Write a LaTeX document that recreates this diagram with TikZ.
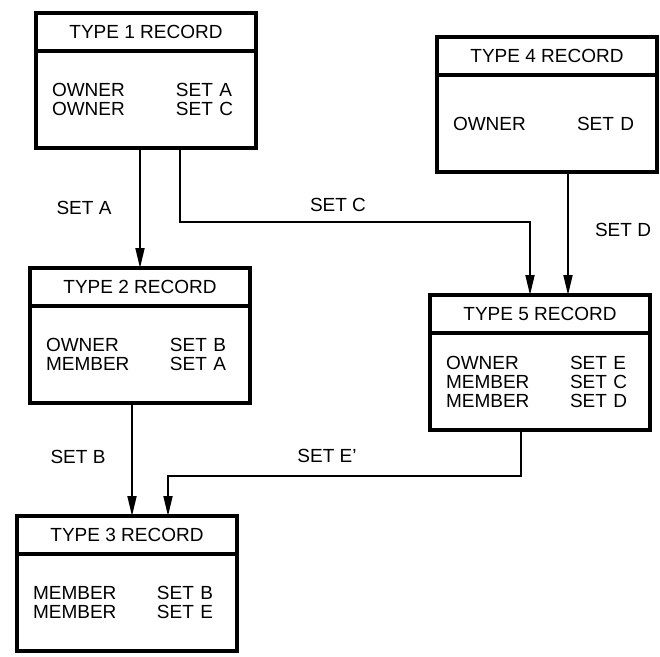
\documentclass[tikz,border=0pt]{standalone}
\usepackage{fontspec}
\setmainfont{Liberation Sans}
\usetikzlibrary{positioning,arrows.meta}

\newcommand{\recfont}{\fontsize{19}{19}\selectfont}
\newcommand{\rrow}[2]{\makebox[124pt][l]{#1}#2}

\tikzset{
  rechead/.style={draw, line width=3.5pt, minimum width=220pt, minimum height=38pt,
    inner sep=0pt, outer sep=0pt, anchor=north west, font=\recfont},
  recbody/.style={draw, line width=3.5pt, minimum width=220pt, minimum height=97pt,
    text width=188pt, align=left, inner xsep=16pt, inner ysep=0pt, outer sep=0pt,
    font=\recfont},
  setline/.style={line width=1.8pt, -{Triangle[length=20pt,width=9pt]}},
  setlabel/.style={font=\recfont, inner sep=0pt}
}

\begin{document}
\begin{tikzpicture}[x=1pt, y=-1pt]
    \useasboundingbox (0,0) rectangle (660,656);

    % records
    \node[rechead] (t1) at (36,13) {TYPE 1 RECORD};
    \node[recbody, below=0pt of t1] (t1b) {\rrow{OWNER}{SET A}\\\rrow{OWNER}{SET C}};

    \node[rechead] (t4) at (437,37) {TYPE 4 RECORD};
    \node[recbody, below=0pt of t4] (t4b) {\rrow{OWNER}{SET D}};

    \node[rechead] (t2) at (30,268) {TYPE 2 RECORD};
    \node[recbody, below=0pt of t2] (t2b) {\rrow{OWNER}{SET B}\\\rrow{MEMBER}{SET A}};

    \node[rechead] (t5) at (430,295) {TYPE 5 RECORD};
    \node[recbody, below=0pt of t5] (t5b) {\rrow{OWNER}{SET E}\\\rrow{MEMBER}{SET C}\\\rrow{MEMBER}{SET D}};

    \node[rechead] (t3) at (17,516) {TYPE 3 RECORD};
    \node[recbody, below=0pt of t3] (t3b) {\rrow{MEMBER}{SET B}\\\rrow{MEMBER}{SET E}};

    % sets
    \coordinate (cturn) at (530,222);
    \coordinate (eturn) at (168,476);

    \draw[setline] ([xshift=-6pt]t1b.south) -- (t2.north);
    \draw[setline] ([xshift=34pt]t1b.south) |- (cturn) -- (cturn |- t5.north);
    \draw[setline] ([xshift=21pt]t4b.south) -- ([xshift=21pt]t4b.south |- t5.north);
    \draw[setline] ([xshift=-8pt]t2b.south) -- ([xshift=-8pt]t2b.south |- t3.north);
    \draw[setline] ([xshift=-19pt]t5b.south) |- (eturn) -- (eturn |- t3.north);

    \node[setlabel] (lseta) at (84,208) {SET A};
    \node[setlabel] (lsetc) at (338,205) {SET C};
    \node[setlabel] (lsetd) at (623,230) {SET D};
    \node[setlabel] (lsetb) at (78,457) {SET B};
    \node[setlabel] (lsete) at (327,456) {SET E'};
\end{tikzpicture}
\end{document}
